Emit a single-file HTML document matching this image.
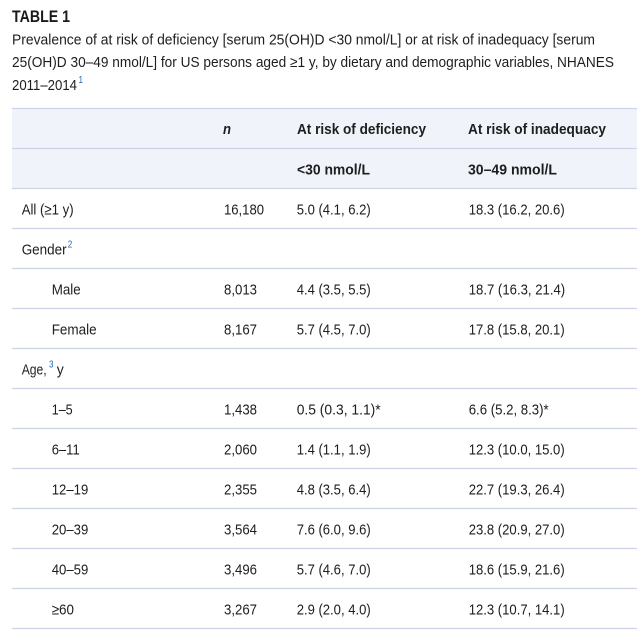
<!DOCTYPE html>
<html>
<head>
<meta charset="utf-8">
<style>
  html,body{margin:0;padding:0;background:#ffffff;}
  svg{display:block;}
  text{font-family:"Liberation Sans", sans-serif;}
  .t{font-size:15px;fill:#1e1e1e;}
  .h{font-size:15px;fill:#1e1e1e;font-weight:bold;}
  .sup{font-size:10px;fill:#2a64b4;}
</style>
</head>
<body>
<svg width="637" height="635" viewBox="0 0 637 635" xmlns="http://www.w3.org/2000/svg">
  <rect x="0" y="0" width="637" height="635" fill="#ffffff"/>

  <!-- Title -->
  <text x="12" y="22" font-size="16.5" font-weight="bold" fill="#1a1a1a" textLength="58" lengthAdjust="spacingAndGlyphs">TABLE 1</text>
  <text class="t" x="12" y="44.5" textLength="583" lengthAdjust="spacingAndGlyphs">Prevalence of at risk of deficiency [serum 25(OH)D &lt;30 nmol/L] or at risk of inadequacy [serum</text>
  <text class="t" x="12" y="67" textLength="602" lengthAdjust="spacingAndGlyphs">25(OH)D 30–49 nmol/L] for US persons aged ≥1 y, by dietary and demographic variables, NHANES</text>
  <text class="t" x="12" y="90" textLength="65" lengthAdjust="spacingAndGlyphs">2011–2014</text>
  <text class="sup" x="78.5" y="83" textLength="4.5" lengthAdjust="spacingAndGlyphs">1</text>

  <!-- Header background -->
  <rect x="12" y="108" width="625" height="80" fill="#f0f4fa"/>

  <!-- Row lines -->
  <g stroke="#cdd2e7" stroke-width="1.2">
    <line x1="12" y1="108.5" x2="637" y2="108.5"/>
    <line x1="12" y1="148.5" x2="637" y2="148.5"/>
    <line x1="12" y1="188.5" x2="637" y2="188.5"/>
    <line x1="12" y1="228.5" x2="637" y2="228.5"/>
    <line x1="12" y1="268.5" x2="637" y2="268.5"/>
    <line x1="12" y1="308.5" x2="637" y2="308.5"/>
    <line x1="12" y1="348.5" x2="637" y2="348.5"/>
    <line x1="12" y1="388.5" x2="637" y2="388.5"/>
    <line x1="12" y1="428.5" x2="637" y2="428.5"/>
    <line x1="12" y1="468.5" x2="637" y2="468.5"/>
    <line x1="12" y1="508.5" x2="637" y2="508.5"/>
    <line x1="12" y1="548.5" x2="637" y2="548.5"/>
    <line x1="12" y1="588.5" x2="637" y2="588.5"/>
    <line x1="12" y1="628.5" x2="637" y2="628.5"/>
  </g>

  <!-- Header text -->
  <text class="h" x="223" y="134" font-style="italic" textLength="8" lengthAdjust="spacingAndGlyphs">n</text>
  <text class="h" x="297" y="134" textLength="129" lengthAdjust="spacingAndGlyphs">At risk of deficiency</text>
  <text class="h" x="468" y="134" textLength="138" lengthAdjust="spacingAndGlyphs">At risk of inadequacy</text>
  <text class="h" x="297" y="174.5" textLength="73" lengthAdjust="spacingAndGlyphs">&lt;30 nmol/L</text>
  <text class="h" x="468" y="174.5" textLength="89" lengthAdjust="spacingAndGlyphs">30–49 nmol/L</text>

  <!-- All -->
  <text class="t" x="21.7" y="214.5" textLength="52" lengthAdjust="spacingAndGlyphs">All (≥1 y)</text>
  <text class="t" x="224" y="214.5" textLength="40" lengthAdjust="spacingAndGlyphs">16,180</text>
  <text class="t" x="296.7" y="214.5" textLength="74" lengthAdjust="spacingAndGlyphs">5.0 (4.1, 6.2)</text>
  <text class="t" x="468.7" y="214.5" textLength="96" lengthAdjust="spacingAndGlyphs">18.3 (16.2, 20.6)</text>

  <!-- Gender -->
  <text class="t" x="21.7" y="254.5" textLength="45" lengthAdjust="spacingAndGlyphs">Gender</text>
  <text class="sup" x="67.7" y="247.5" textLength="4.5" lengthAdjust="spacingAndGlyphs">2</text>

  <!-- Male -->
  <text class="t" x="51.7" y="294.5" textLength="29" lengthAdjust="spacingAndGlyphs">Male</text>
  <text class="t" x="224" y="294.5" textLength="33" lengthAdjust="spacingAndGlyphs">8,013</text>
  <text class="t" x="296.7" y="294.5" textLength="74" lengthAdjust="spacingAndGlyphs">4.4 (3.5, 5.5)</text>
  <text class="t" x="468.7" y="294.5" textLength="96.5" lengthAdjust="spacingAndGlyphs">18.7 (16.3, 21.4)</text>

  <!-- Female -->
  <text class="t" x="51.7" y="334.5" textLength="45" lengthAdjust="spacingAndGlyphs">Female</text>
  <text class="t" x="224" y="334.5" textLength="33" lengthAdjust="spacingAndGlyphs">8,167</text>
  <text class="t" x="296.7" y="334.5" textLength="74" lengthAdjust="spacingAndGlyphs">5.7 (4.5, 7.0)</text>
  <text class="t" x="468.7" y="334.5" textLength="96" lengthAdjust="spacingAndGlyphs">17.8 (15.8, 20.1)</text>

  <!-- Age -->
  <text class="t" x="21.7" y="374.5" textLength="25" lengthAdjust="spacingAndGlyphs">Age,</text>
  <text class="sup" x="49" y="367.5" textLength="4.5" lengthAdjust="spacingAndGlyphs">3</text>
  <text class="t" x="56.7" y="374.5" textLength="7" lengthAdjust="spacingAndGlyphs">y</text>

  <!-- 1–5 -->
  <text class="t" x="51.7" y="414.5" textLength="21" lengthAdjust="spacingAndGlyphs">1–5</text>
  <text class="t" x="224" y="414.5" textLength="33" lengthAdjust="spacingAndGlyphs">1,438</text>
  <text class="t" x="296.7" y="414.5" textLength="84" lengthAdjust="spacingAndGlyphs">0.5 (0.3, 1.1)*</text>
  <text class="t" x="468.7" y="414.5" textLength="80" lengthAdjust="spacingAndGlyphs">6.6 (5.2, 8.3)*</text>

  <!-- 6–11 -->
  <text class="t" x="51.7" y="454.5" textLength="28" lengthAdjust="spacingAndGlyphs">6–11</text>
  <text class="t" x="224" y="454.5" textLength="33" lengthAdjust="spacingAndGlyphs">2,060</text>
  <text class="t" x="296.7" y="454.5" textLength="74" lengthAdjust="spacingAndGlyphs">1.4 (1.1, 1.9)</text>
  <text class="t" x="468.7" y="454.5" textLength="96" lengthAdjust="spacingAndGlyphs">12.3 (10.0, 15.0)</text>

  <!-- 12–19 -->
  <text class="t" x="51.7" y="494.5" textLength="36.6" lengthAdjust="spacingAndGlyphs">12–19</text>
  <text class="t" x="224" y="494.5" textLength="33" lengthAdjust="spacingAndGlyphs">2,355</text>
  <text class="t" x="296.7" y="494.5" textLength="74" lengthAdjust="spacingAndGlyphs">4.8 (3.5, 6.4)</text>
  <text class="t" x="468.7" y="494.5" textLength="96" lengthAdjust="spacingAndGlyphs">22.7 (19.3, 26.4)</text>

  <!-- 20–39 -->
  <text class="t" x="51.7" y="534.5" textLength="36.6" lengthAdjust="spacingAndGlyphs">20–39</text>
  <text class="t" x="224" y="534.5" textLength="33" lengthAdjust="spacingAndGlyphs">3,564</text>
  <text class="t" x="296.7" y="534.5" textLength="74" lengthAdjust="spacingAndGlyphs">7.6 (6.0, 9.6)</text>
  <text class="t" x="468.7" y="534.5" textLength="96" lengthAdjust="spacingAndGlyphs">23.8 (20.9, 27.0)</text>

  <!-- 40–59 -->
  <text class="t" x="51.7" y="574.5" textLength="36.6" lengthAdjust="spacingAndGlyphs">40–59</text>
  <text class="t" x="224" y="574.5" textLength="33" lengthAdjust="spacingAndGlyphs">3,496</text>
  <text class="t" x="296.7" y="574.5" textLength="74" lengthAdjust="spacingAndGlyphs">5.7 (4.6, 7.0)</text>
  <text class="t" x="468.7" y="574.5" textLength="96" lengthAdjust="spacingAndGlyphs">18.6 (15.9, 21.6)</text>

  <!-- ≥60 -->
  <text class="t" x="51.7" y="614.5" textLength="22.3" lengthAdjust="spacingAndGlyphs">≥60</text>
  <text class="t" x="224" y="614.5" textLength="33" lengthAdjust="spacingAndGlyphs">3,267</text>
  <text class="t" x="296.7" y="614.5" textLength="74" lengthAdjust="spacingAndGlyphs">2.9 (2.0, 4.0)</text>
  <text class="t" x="468.7" y="614.5" textLength="96" lengthAdjust="spacingAndGlyphs">12.3 (10.7, 14.1)</text>
</svg>
</body>
</html>
